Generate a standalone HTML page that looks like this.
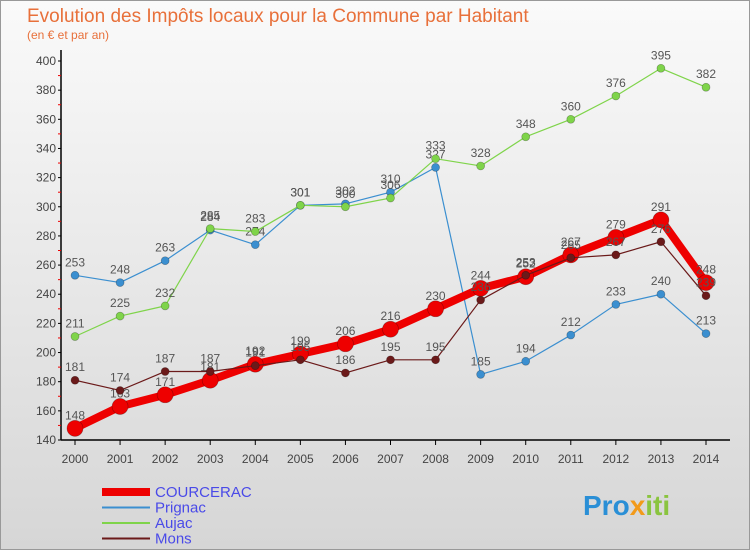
<!DOCTYPE html>
<html><head><meta charset="utf-8"><style>
body{margin:0;width:750px;height:550px;overflow:hidden;font-family:"Liberation Sans",sans-serif}
svg{display:block}
</style></head><body>
<svg id="c" width="750" height="550" xmlns="http://www.w3.org/2000/svg">
<defs><linearGradient id="bg" x1="0" y1="0" x2="0" y2="1"><stop offset="0" stop-color="#fafafa"/><stop offset="1" stop-color="#d6d6d6"/></linearGradient></defs>
<rect x="0.5" y="0.5" width="749" height="549" fill="url(#bg)" stroke="#999"/>
<text x="27" y="22" font-size="19" fill="#e8703a">Evolution des Impôts locaux pour la Commune par Habitant</text>
<text x="27" y="39" font-size="12" fill="#e8703a">(en € et par an)</text>
<g id="axes"></g><g id="series"></g><g id="legend"></g>
<text x="583" y="515" font-size="28" font-weight="bold" fill="#2a8fd6">Pro<tspan fill="#f29a1a">x</tspan><tspan fill="#8ac43f">iti</tspan></text>
</svg>
<script>
const years=[2000,2001,2002,2003,2004,2005,2006,2007,2008,2009,2010,2011,2012,2013,2014];
const yTicks=[140,160,180,200,220,240,260,280,300,320,340,360,380,400];
const courcerac=[148,163,171,181,192,199,206,216,230,244,252,267,279,291,248];
const prignac=[253,248,263,284,274,301,302,310,327,185,194,212,233,240,213];
const aujac=[211,225,232,285,283,301,300,306,333,328,348,360,376,395,382];
const mons=[181,174,187,187,191,195,186,195,195,236,253,265,267,276,239];
const NS="http://www.w3.org/2000/svg";
const X=i=>75+i*(631/14);
const Y=v=>440-(v-140)*(379/260);
function mk(t,a,p){const e=document.createElementNS(NS,t);for(const k in a)e.setAttribute(k,a[k]);p.appendChild(e);return e;}
const ax=document.getElementById('axes');
let l=mk('line',{x1:61,y1:50,x2:61,y2:440,stroke:'#000','stroke-width':1.5},ax);


l=mk('line',{x1:61,y1:440,x2:730,y2:440,stroke:'#000','stroke-width':1.5},ax);


yTicks.forEach(v=>{const t=mk('text',{x:56,y:Y(v)+4,'font-size':12,'text-anchor':'end',fill:'#444'},ax);t.textContent=v;


mk('line',{x1:58,y1:Y(v),x2:61,y2:Y(v),stroke:'#000'},ax);
if(v<400)mk('line',{x1:58,y1:Y(v+10),x2:61,y2:Y(v+10),stroke:'#e00'},ax);});
years.forEach((y,i)=>{const t=mk('text',{x:X(i),y:463,'font-size':12,'text-anchor':'middle',fill:'#444'},ax);t.textContent=y;


mk('line',{x1:X(i),y1:440,x2:X(i),y2:445,stroke:'#000'},ax);});
const sg=document.getElementById('series');
function draw(data,col,w,r,name){const g=mk('g',{},sg);


mk('polyline',{points:data.map((v,i)=>X(i)+','+Y(v)).join(' '),fill:'none',stroke:col,'stroke-width':w,'stroke-linejoin':'round'},g);
data.forEach((v,i)=>{const c=mk('circle',{cx:X(i),cy:Y(v),r:r,fill:col,stroke:'rgba(0,0,0,0.3)','stroke-width':0.7},g);


const t=mk('text',{x:X(i),y:Y(v)-9,'font-size':12,'text-anchor':'middle',fill:'#555'},g);t.textContent=v;

});}
draw(prignac,'#3b8fd0',1.2,4,'prignac');
draw(aujac,'#7fd44a',1.2,4,'aujac');
draw(courcerac,'#ee0000',8,8,'courcerac');
draw(mons,'#6b1a1a',1.2,4,'mons');
const lg=document.getElementById('legend');
[['COURCERAC','#ee0000',8],['Prignac','#3b8fd0',2],['Aujac','#7fd44a',2],['Mons','#6b1a1a',2]].forEach((s,i)=>{const y=492+i*15.5;
const g=mk('g',{},lg);


mk('line',{x1:102,y1:y,x2:150,y2:y,stroke:s[1],'stroke-width':s[2]},g);
const t=mk('text',{x:155,y:y+5,'font-size':15,fill:'#4a4ae8'},g);t.textContent=s[0];});
</script>
</body></html>
